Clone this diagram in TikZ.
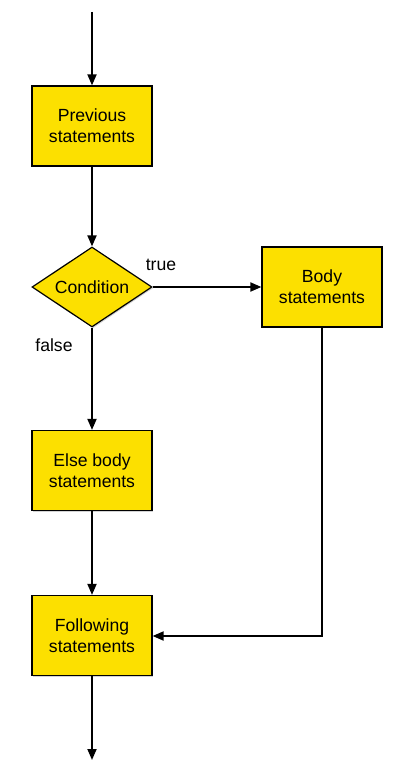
\documentclass[tikz,border=0pt]{standalone}
\usepackage{fontspec}
\setmainfont{Liberation Sans}
\usetikzlibrary{arrows.meta,shapes.geometric,shadows}
\definecolor{boxyellow}{HTML}{FCE000}
\begin{document}
\begin{tikzpicture}[x=1pt,y=-1pt,
  every node/.style={font=\fontsize{17.6}{21}\selectfont},
  stmt/.style={draw=black, line width=1.2pt, fill=boxyellow, minimum width=120pt, minimum height=80pt, align=center, inner sep=0pt,
    drop shadow={shadow xshift=1.2pt, shadow yshift=-1.2pt, opacity=0.35}},
  cond/.style={draw=black, line width=1.2pt, fill=boxyellow, diamond, aspect=1.5, minimum width=120pt, minimum height=80pt, inner sep=0pt,
    drop shadow={shadow xshift=1.2pt, shadow yshift=-1.2pt, opacity=0.35}},
  flow/.style={line width=1.8pt, -{Triangle[length=11pt,width=9pt]}},
  lbl/.style={inner sep=0pt}
]
\useasboundingbox (0,0) rectangle (402,773);
\coordinate (start) at (92,12);
\coordinate (finish) at (92,760);
\coordinate (turn) at (322,636);
\node[stmt] (prev) at (92,126) {Previous\\statements};
\node[cond] (cond) at (92,287) {};
\node (condtext) at (cond.center) {Condition};
\node[stmt] (body) at (322,287) {Body\\statements};
\node[stmt] (else) at (92,470.5) {Else body\\statements};
\node[stmt] (follow) at (92,635.5) {Following\\statements};
\node[lbl] (truelbl) at (161,265) {true};
\node[lbl] (falselbl) at (54,345) {false};
\draw[flow] (start) -- (prev.north);
\draw[flow] (prev.south) -- (cond.north);
\draw[flow] (cond.east) -- (body.west);
\draw[flow] (cond.south) -- (else.north);
\draw[flow] (else.south) -- (follow.north);
\draw[flow] (body.south -| turn) -- (turn) -- (follow.east |- turn);
\draw[flow] (follow.south) -- (finish);
\end{tikzpicture}
\end{document}
